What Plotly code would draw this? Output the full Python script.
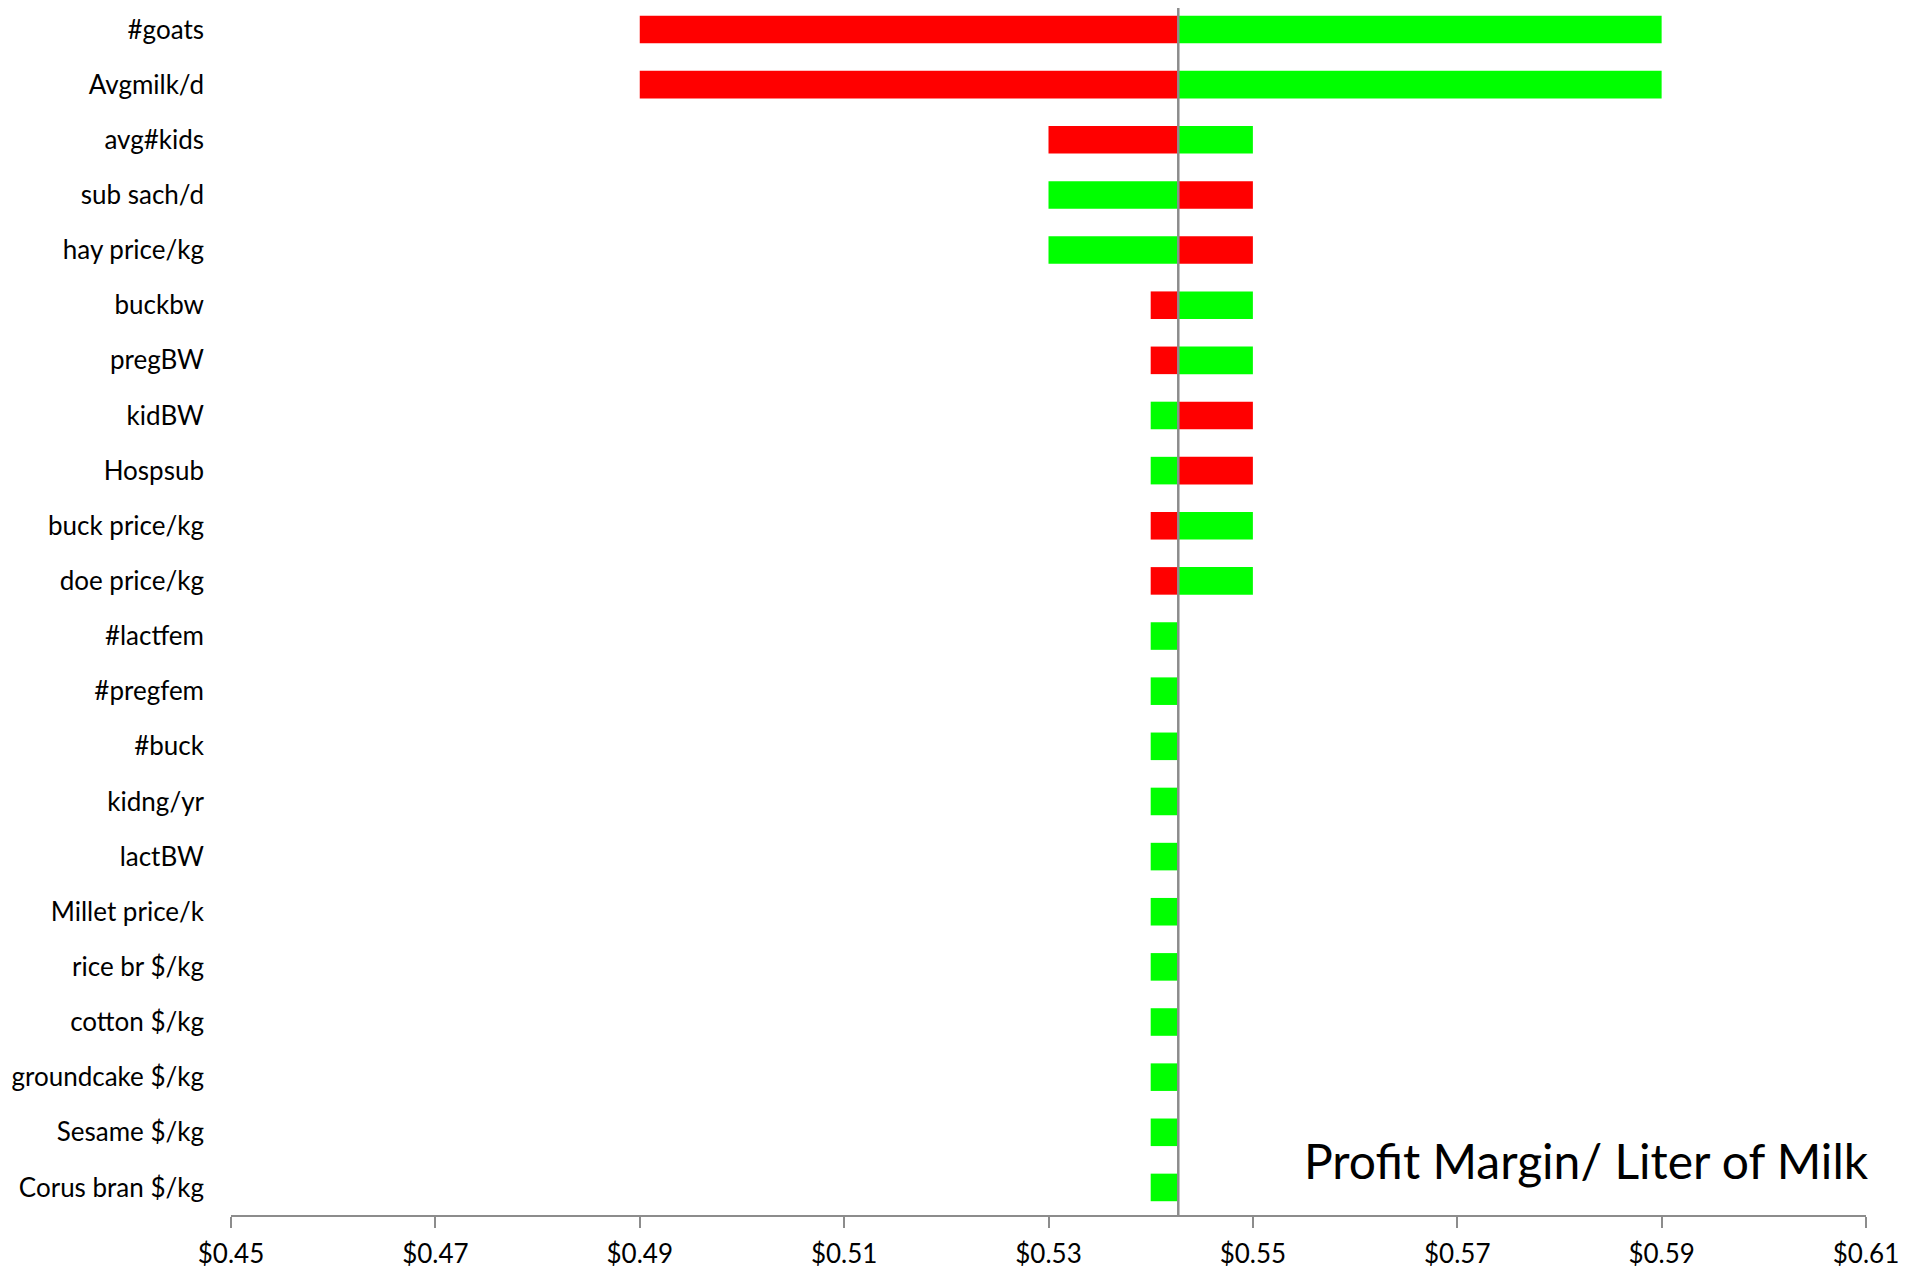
import plotly.graph_objects as go

categories = ["#goats", "Avgmilk/d", "avg#kids", "sub sach/d", "hay price/kg", "buckbw",
              "pregBW", "kidBW", "Hospsub", "buck price/kg", "doe price/kg", "#lactfem",
              "#pregfem", "#buck", "kidng/yr", "lactBW", "Millet price/k", "rice br $/kg",
              "cotton $/kg", "groundcake $/kg", "Sesame $/kg", "Corus bran $/kg"]

base_value = 0.5427

# profit margin when input is at its low setting (red) and high setting (green)
low_case = [0.49, 0.49, 0.53, 0.55, 0.55, 0.54, 0.54, 0.55, 0.55, 0.54, 0.54,
            0.5427, 0.5427, 0.5427, 0.5427, 0.5427, 0.5427, 0.5427, 0.5427, 0.5427, 0.5427, 0.5427]
high_case = [0.59, 0.59, 0.55, 0.53, 0.53, 0.55, 0.55, 0.54, 0.54, 0.55, 0.55,
             0.54, 0.54, 0.54, 0.54, 0.54, 0.54, 0.54, 0.54, 0.54, 0.54, 0.54]

tick_vals = [0.45, 0.47, 0.49, 0.51, 0.53, 0.55, 0.57, 0.59, 0.61]
tick_text = ["$0.45", "$0.47", "$0.49", "$0.51", "$0.53", "$0.55", "$0.57", "$0.59", "$0.61"]

FONT = "Lato"

fig = go.Figure()
fig.add_trace(go.Bar(
    y=categories, x=[v - base_value for v in low_case], base=base_value,
    orientation="h", marker=dict(color="#FF0000", line=dict(width=0)),
    width=0.5, name="Low", showlegend=False))
fig.add_trace(go.Bar(
    y=categories, x=[v - base_value for v in high_case], base=base_value,
    orientation="h", marker=dict(color="#00FF00", line=dict(width=0)),
    width=0.5, name="High", showlegend=False))

fig.add_shape(type="line", xref="x", yref="paper", x0=base_value, x1=base_value,
              y0=0, y1=1, line=dict(color="#8C8C8C", width=2.5), layer="above")

fig.add_annotation(text="Profit Margin/ Liter of Milk", xref="paper", yref="paper",
                   x=1.003, y=0.045, xanchor="right", yanchor="middle", showarrow=False,
                   font=dict(family=FONT, size=48, color="black"))

fig.update_layout(
    width=1913, height=1261,
    barmode="overlay",
    plot_bgcolor="white", paper_bgcolor="white",
    margin=dict(l=223, r=55, t=0, b=54, pad=0),
    font=dict(family=FONT, size=26, color="black"),
    xaxis=dict(range=[0.45, 0.61], tickvals=tick_vals, ticktext=tick_text,
               showgrid=False, zeroline=False, showline=True, linecolor="#8C8C8C",
               linewidth=2, ticks="outside", ticklen=11, tickwidth=2, tickcolor="#8C8C8C",
               automargin=False, ticklabelstandoff=4,
               tickfont=dict(family=FONT, size=26, color="black")),
    yaxis=dict(categoryorder="array", categoryarray=categories,
               range=[len(categories) - 0.5, -0.39], automargin=False,
               showgrid=False, zeroline=False, showline=False, ticks="",
               ticklabelstandoff=26,
               tickfont=dict(family=FONT, size=26, color="black")),
)

fig.write_html("out.html")
